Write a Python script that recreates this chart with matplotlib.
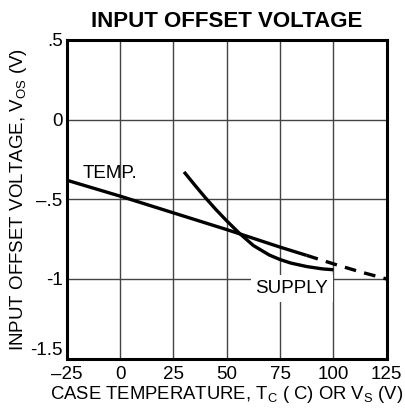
import matplotlib
matplotlib.use("Agg")
import matplotlib.pyplot as plt

plt.rcParams['font.family'] = ['Liberation Sans', 'DejaVu Sans']

temp_x = [-25, 0, 25, 50, 75, 87.5]
temp_y = [-0.38, -0.48, -0.585, -0.69, -0.80, -0.852]
temp_dash_x = [87.5, 100, 112.5, 125]
temp_dash_y = [-0.852, -0.905, -0.955, -1.0]
supply_x = [30, 35, 40, 45, 50, 56, 62.5, 70, 75, 80, 87.5, 95, 100]
supply_y = [-0.328, -0.41, -0.49, -0.565, -0.635, -0.714, -0.79, -0.85,
            -0.878, -0.90, -0.922, -0.937, -0.942]

xticks = [-25, 0, 25, 50, 75, 100, 125]
xticklabels = ['\u201325', '0', '25', '50', '75', '100', '125']
yticks = [0.5, 0, -0.5, -1, -1.5]
yticklabels = ['.5', '0', '\u2013.5', '-1', '-1.5']

fig = plt.figure(figsize=(4.05, 4.08), dpi=100)
ax = fig.add_axes([0.1647, 0.121, 0.7901, 0.781])
ax.set_xlim(-25, 125)
ax.set_ylim(-1.5, 0.5)
ax.set_xticks(xticks)
ax.set_xticklabels(xticklabels)
ax.set_yticks(yticks)
ax.set_yticklabels(yticklabels)
ax.tick_params(length=0, labelsize=13.5, pad=5)
ax.tick_params(axis='y', pad=3)
ylabs = ax.get_yticklabels()
ylabs[-1].set_verticalalignment('bottom')
ax.grid(True, color='#444444', linewidth=1.0)
ax.set_axisbelow(True)
for s in ax.spines.values():
    s.set_linewidth(2.2)
    s.set_zorder(5)

ax.plot(temp_x, temp_y, color='black', lw=2.4, solid_capstyle='butt', zorder=3)
ax.plot(temp_dash_x, temp_dash_y, color='black', lw=2.4, dashes=(3.5, 2.5), zorder=3)
ax.plot(supply_x, supply_y, color='black', lw=2.4, solid_capstyle='butt',
        solid_joinstyle='round', zorder=3)

ax.text(-4.5, -0.335, 'TEMP.', fontsize=13.5, ha='center', va='center', zorder=4)
ax.text(80.6, -1.058, 'SUPPLY', fontsize=13.5, ha='center', va='center', zorder=4,
        bbox=dict(facecolor='white', edgecolor='none', pad=3.5))

ax.set_title('INPUT OFFSET VOLTAGE', fontsize=16, fontweight='bold', pad=9)
ax.set_xlabel('CASE TEMPERATURE, T$_\\mathregular{C}$ ( C) OR V$_\\mathregular{S}$ (V)',
              fontsize=13.3, labelpad=1)
ax.set_ylabel('INPUT OFFSET VOLTAGE, V$_\\mathregular{OS}$ (V)', fontsize=13.5, labelpad=1)

fig.savefig('out.png', dpi=100)
